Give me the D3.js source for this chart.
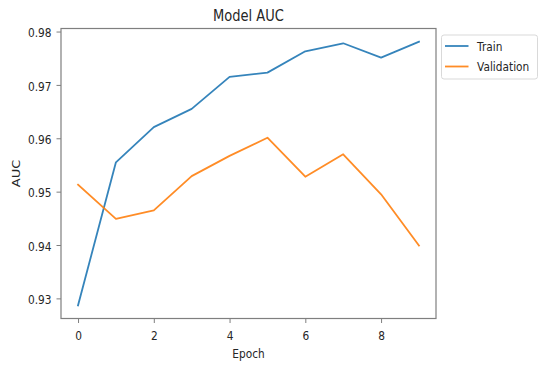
<!DOCTYPE html>
<html>
<head>
<meta charset="utf-8">
<script src="https://cdn.jsdelivr.net/npm/d3@7"></script>
<style>
  html, body { margin: 0; padding: 0; background: #fff; }
  svg { display: block; font-family: "DejaVu Sans", sans-serif; }
</style>
</head>
<body>
<svg id="chart" width="550" height="370"></svg>
<script>
const epochs = [0, 1, 2, 3, 4, 5, 6, 7, 8, 9];
const trainAUC = [0.9287, 0.9555, 0.9621, 0.9655, 0.9715, 0.9723, 0.9763, 0.9778, 0.9751, 0.9781];
const valAUC = [0.9513, 0.9449, 0.9465, 0.9529, 0.9567, 0.9601, 0.9528, 0.9570, 0.9495, 0.9399];
const xTicks = [0, 2, 4, 6, 8];
const yTicks = [0.93, 0.94, 0.95, 0.96, 0.97, 0.98];
const seriesNames = ["Train", "Validation"];
const seriesColors = ["#1f77b4", "#ff7f0e"];

const svg = d3.select("#chart");
const L = 61, T = 28.5, R = 436, B = 318.5;
const SX = 0.815;           // horizontal squeeze of the original picture
const textColor = "#262626";
const axisColor = "#7f7f7f";

function label(g, x, y, txt, size, anchor, rot) {
  const t = g.append("text")
    .attr("transform", `translate(${x},${y})` + (rot ? ` rotate(${rot})` : "") + (rot ? ` scale(1,${SX})` : ` scale(${SX},1)`))
    .attr("text-anchor", anchor || "start")
    .attr("font-size", size).attr("fill", textColor).text(txt);
  return t;
}

const x = d3.scaleLinear().domain([-0.45, 9.45]).range([L, R]);
const yMin = d3.min([...trainAUC, ...valAUC]), yMax = d3.max([...trainAUC, ...valAUC]);
const pad = (yMax - yMin) * 0.05;
const y = d3.scaleLinear().domain([yMin - pad, yMax + pad]).range([B, T]);

// X axis
const xAxis = svg.append("g").attr("transform", `translate(0,${B})`)
  .call(d3.axisBottom(x).tickValues(xTicks).tickFormat(d3.format("d")).tickSize(4.5));
xAxis.selectAll(".tick text").each(function() {
  const t = d3.select(this);
  t.attr("y", null).attr("dy", null).attr("x", null)
   .attr("transform", `translate(0,21) scale(${SX},1)`);
});
// Y axis
const yAxis = svg.append("g").attr("transform", `translate(${L},0)`)
  .call(d3.axisLeft(y).tickValues(yTicks).tickFormat(d3.format(".2f")).tickSize(4.5));
yAxis.selectAll(".tick text").each(function() {
  const t = d3.select(this);
  t.attr("x", null).attr("dy", null)
   .attr("transform", `translate(-9.5,5.2) scale(${SX},1)`);
});
[xAxis, yAxis].forEach(g => {
  g.select(".domain").remove();
  g.selectAll(".tick line").attr("stroke", axisColor).attr("stroke-width", 1);
  g.selectAll(".tick text").attr("fill", textColor).attr("font-size", 13).attr("font-family", "DejaVu Sans, sans-serif");
});

// Lines
const line = d3.line().x((d, i) => x(epochs[i])).y(d => y(d));
[trainAUC, valAUC].forEach((s, i) => {
  svg.append("path").datum(s).attr("d", line)
    .attr("fill", "none").attr("stroke", seriesColors[i]).attr("stroke-width", 1.8)
    .attr("stroke-opacity", 0.9)
    .attr("stroke-linejoin", "round").attr("stroke-linecap", "square");
});

// Frame
svg.append("rect").attr("x", L).attr("y", T).attr("width", R - L).attr("height", B - T)
  .attr("fill", "none").attr("stroke", axisColor).attr("stroke-width", 1.2);

// Title & axis labels
label(svg, (L + R) / 2, 20.5, "Model AUC", 16, "middle");
label(svg, (L + R) / 2, 358, "Epoch", 13, "middle");
label(svg, 20, (T + B) / 2, "AUC", 13, "middle", -90);

// Legend
const lg = svg.append("g");
lg.append("rect").attr("x", 441.5).attr("y", 35).attr("width", 96).attr("height", 44).attr("rx", 2.5)
  .attr("fill", "#fff").attr("stroke", "#d9d9d9").attr("stroke-width", 1);
seriesNames.forEach((n, i) => {
  const yy = 46 + i * 20.5;
  lg.append("line").attr("x1", 445).attr("x2", 468.5).attr("y1", yy).attr("y2", yy)
    .attr("stroke", seriesColors[i]).attr("stroke-width", 1.8).attr("stroke-opacity", 0.9);
  label(lg, 477, yy + 4.5, n, 13, "start");
});
</script>
</body>
</html>
